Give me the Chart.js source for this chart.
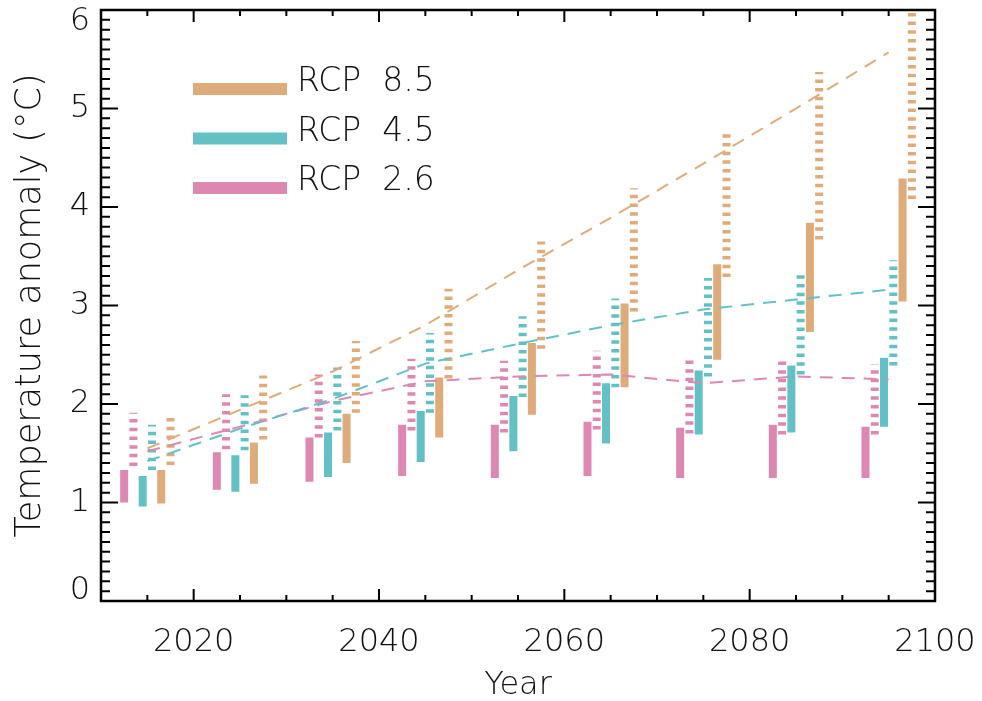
<!DOCTYPE html>
<html>
<head>
<meta charset="utf-8">
<title>Temperature anomaly</title>
<script src="https://cdn.jsdelivr.net/npm/chart.js@4.4.0/dist/chart.umd.min.js"></script>
<style>
  body { margin: 0; background: #fff; }
  #wrap { width: 982px; height: 701px; }
</style>
</head>
<body>
<div id="wrap"><canvas id="myChart" width="982" height="701"></canvas></div>
<script>
// decade groups, each group holds 6 range bars (2.5 .. 7.5 years into the decade)
const decades = [2010, 2020, 2030, 2040, 2050, 2060, 2070, 2080, 2090];
const meanYears = [2015, 2025, 2035, 2045, 2055, 2065, 2075, 2085, 2095];

const xTicks = [2020, 2040, 2060, 2080, 2100];
const yTicks = [0, 1, 2, 3, 4, 5, 6];

const scenarios = ['RCP  8.5', 'RCP  4.5', 'RCP  2.6'];
const colors = ['#deab7b', '#63c1c6', '#dc88b3'];

// [low, high] per decade
const rcp26Solid  = [[1.00,1.33],[1.13,1.51],[1.21,1.66],[1.27,1.79],[1.25,1.79],[1.27,1.82],[1.25,1.76],[1.25,1.79],[1.25,1.77]];
const rcp26Dashed = [[1.37,1.91],[1.54,2.10],[1.66,2.30],[1.73,2.46],[1.71,2.44],[1.74,2.54],[1.70,2.45],[1.69,2.44],[1.69,2.40]];
const rcp45Solid  = [[0.96,1.27],[1.11,1.48],[1.26,1.71],[1.41,1.93],[1.52,2.08],[1.60,2.21],[1.69,2.34],[1.71,2.39],[1.77,2.47]];
const rcp45Dashed = [[1.33,1.79],[1.53,2.09],[1.73,2.37],[1.91,2.72],[2.07,2.89],[2.17,3.07],[2.28,3.28],[2.30,3.31],[2.39,3.46]];
const rcp85Solid  = [[0.99,1.33],[1.19,1.61],[1.40,1.90],[1.66,2.27],[1.89,2.62],[2.17,3.02],[2.45,3.42],[2.73,3.84],[3.04,4.29]];
const rcp85Dashed = [[1.38,1.91],[1.64,2.29],[1.91,2.64],[2.26,3.17],[2.56,3.65],[2.94,4.19],[3.29,4.74],[3.67,5.37],[4.08,5.97]];

// multi-model mean
const rcp26Mean = [1.52, 1.77, 2.03, 2.23, 2.28, 2.30, 2.21, 2.28, 2.25];
const rcp45Mean = [1.42, 1.75, 2.05, 2.41, 2.61, 2.80, 2.96, 3.06, 3.16];
const rcp85Mean = [1.55, 1.94, 2.33, 2.80, 3.36, 3.89, 4.44, 5.00, 5.57];

const family = "'DejaVu Sans', sans-serif";
const font = { family: family, size: 32, weight: 300 };
const textColor = '#111';

function barPoints(ranges, offset) {
    let pts = [];
    ranges.forEach((r, i) => {
        let x = decades[i] + offset;
        pts.push({ x: x, y: r[0] }, { x: x, y: r[1] }, { x: x, y: null });
    });
    return pts;
}

function rangeSet(label, ranges, offset, color, dashed) {
    return {
        label: label,
        data: barPoints(ranges, offset),
        borderColor: color,
        borderWidth: 8,
        borderCapStyle: 'butt',
        borderDash: dashed ? [3.5, 5.2] : [],
        pointRadius: 0,
        spanGaps: false,
        tension: 0
    };
}

function meanSet(label, values, color) {
    return {
        label: label,
        data: meanYears.map((x, i) => ({ x: x, y: values[i] })),
        borderColor: color,
        borderWidth: 2,
        borderDash: [13, 9],
        pointRadius: 0,
        tension: 0
    };
}

// frame with inward ticks on all four sides
const frameTicks = {
    id: 'frameTicks',
    afterDatasetsDraw(chart) {
        const { ctx, chartArea: a, scales: { x, y } } = chart;
        ctx.save();
        ctx.strokeStyle = '#000';
        ctx.lineWidth = 2.5;
        ctx.strokeRect(a.left, a.top, a.right - a.left, a.bottom - a.top);
        ctx.lineWidth = 2;
        ctx.beginPath();
        for (let v = 2015; v < 2100; v += 5) {
            let len = v % 20 === 0 ? 12 : 6;
            let px = x.getPixelForValue(v);
            ctx.moveTo(px, a.bottom); ctx.lineTo(px, a.bottom - len);
            ctx.moveTo(px, a.top); ctx.lineTo(px, a.top + len);
        }
        for (let i = 1; i < 60; i++) {
            let len = i % 10 === 0 ? 17 : 9;
            let py = y.getPixelForValue(i / 10);
            ctx.moveTo(a.left, py); ctx.lineTo(a.left + len, py);
            ctx.moveTo(a.right, py); ctx.lineTo(a.right - len, py);
        }
        ctx.stroke();
        ctx.restore();
    }
};

// legend in the upper left of the plot
const rcpLegend = {
    id: 'rcpLegend',
    afterDraw(chart) {
        const { ctx, chartArea: a } = chart;
        ctx.save();
        ctx.font = "300 33px " + family;
        ctx.textBaseline = 'alphabetic';
        scenarios.forEach((name, i) => {
            let ly = a.top + 79 + i * 49.5;
            ctx.fillStyle = colors[i];
            ctx.fillRect(a.left + 92, ly - 6, 94, 12);
            ctx.fillStyle = textColor;
            ctx.fillText(name, a.left + 196, ly + 2);
        });
        ctx.restore();
    }
};

// end labels sit a little inside the frame
function yLabel(v) {
    if (v === 6) return ['', '6'];
    if (v === 0) return ['0', ''];
    return String(v);
}

function yFont(c) {
    let v = c.tick ? c.tick.value : null;
    let lh = v === 6 ? '24px' : v === 0 ? '20px' : 1.2;
    return { family: family, size: 32, weight: 300, lineHeight: lh };
}

const canvas = document.getElementById('myChart');

new Chart(canvas, {
    type: 'line',
    data: {
        datasets: [
            meanSet('RCP 8.5 mean', rcp85Mean, colors[0]),
            meanSet('RCP 4.5 mean', rcp45Mean, colors[1]),
            meanSet('RCP 2.6 mean', rcp26Mean, colors[2]),
            rangeSet('RCP 2.6 a', rcp26Solid, 2.5, colors[2], false),
            rangeSet('RCP 2.6 b', rcp26Dashed, 3.5, colors[2], true),
            rangeSet('RCP 4.5 a', rcp45Solid, 4.5, colors[1], false),
            rangeSet('RCP 4.5 b', rcp45Dashed, 5.5, colors[1], true),
            rangeSet('RCP 8.5 a', rcp85Solid, 6.5, colors[0], false),
            rangeSet('RCP 8.5 b', rcp85Dashed, 7.5, colors[0], true)
        ]
    },
    options: {
        responsive: false,
        animation: false,
        devicePixelRatio: 1,
        layout: { padding: { top: 10, right: 47, left: 0, bottom: 0 } },
        plugins: {
            legend: { display: false },
            tooltip: { enabled: false }
        },
        scales: {
            x: {
                type: 'linear',
                min: 2010,
                max: 2100,
                afterBuildTicks: s => { s.ticks = xTicks.map(v => ({ value: v })); },
                afterFit: s => { s.height = 100; s.paddingLeft = 0; s.paddingRight = 0; },
                grid: { display: false, drawTicks: false },
                border: { display: false },
                ticks: { font: font, color: textColor, padding: 22, maxRotation: 0, autoSkip: false, callback: v => String(v) },
                title: { display: true, text: 'Year', font: font, color: textColor, padding: { top: 0, bottom: -4 } }
            },
            y: {
                min: 0,
                max: 6,
                afterBuildTicks: s => { s.ticks = yTicks.map(v => ({ value: v })); },
                afterFit: s => { s.width = 101; s.paddingTop = 0; s.paddingBottom = 0; },
                grid: { display: false, drawTicks: false },
                border: { display: false },
                ticks: { font: yFont, color: textColor, padding: 11, callback: yLabel },
                title: { display: true, text: 'Temperature anomaly (°C)', font: { family: family, size: 35, weight: 300 }, color: textColor, padding: { top: 10, bottom: 0 } }
            }
        }
    },
    plugins: [frameTicks, rcpLegend]
});
</script>
</body>
</html>
